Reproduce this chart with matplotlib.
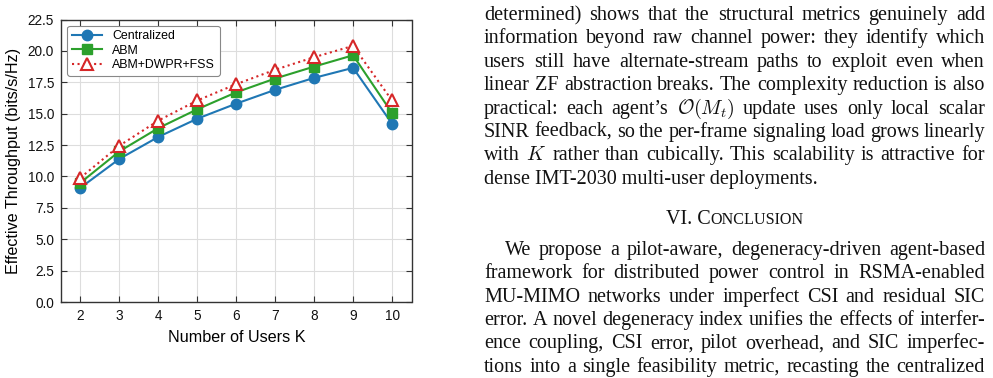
import matplotlib
matplotlib.use("Agg")
import matplotlib.pyplot as plt

# chart data
users = [2, 3, 4, 5, 6, 7, 8, 9, 10]
centralized = [9.1, 11.4, 13.15, 14.6, 15.8, 16.9, 17.85, 18.65, 14.2]
abm = [9.5, 12.0, 13.85, 15.35, 16.7, 17.8, 18.75, 19.65, 15.05]
abm_dwpr_fss = [9.9, 12.45, 14.45, 16.05, 17.35, 18.5, 19.5, 20.4, 16.05]
yticks = [0.0, 2.5, 5.0, 7.5, 10.0, 12.5, 15.0, 17.5, 20.0, 22.5]

# page text next to the figure
para1 = [
    "determined) shows that the structural metrics genuinely add",
    "information beyond raw channel power: they identify which",
    "users still have alternate-stream paths to exploit even when",
    "linear ZF abstraction breaks. The complexity reduction is also",
    "practical: each agent\u2019s $\\mathcal{O}(M_t)$ update uses only local scalar",
    "SINR feedback, so the per-frame signaling load grows linearly",
    r"with $K$ rather than cubically. This scalability is attractive for",
    "dense IMT-2030 multi-user deployments.",
]
para2 = [
    "We propose a pilot-aware, degeneracy-driven agent-based",
    "framework for distributed power control in RSMA-enabled",
    "MU-MIMO networks under imperfect CSI and residual SIC",
    "error. A novel degeneracy index unifies the effects of interfer-",
    "ence coupling, CSI error, pilot overhead, and SIC imperfec-",
    "tions into a single feasibility metric, recasting the centralized",
]

W, H = 993, 378
plt.rcParams['mathtext.fontset'] = 'cm'
fig = plt.figure(figsize=(W / 100, H / 100), dpi=100)
ax = fig.add_axes([61 / W, 1 - 302 / H, (411.5 - 61) / W, (302 - 19.5) / H])

sans = 'Liberation Sans'
ax.plot(users, centralized, '-o', color='#1f77b4', lw=1.5, ms=7.5, label='Centralized')
ax.plot(users, abm, '-s', color='#2ca02c', lw=1.5, ms=7, label='ABM')
ax.plot(users, abm_dwpr_fss, ':^', color='#d62728', lw=1.5, ms=8,
        markerfacecolor='white', markeredgewidth=1.5, label='ABM+DWPR+FSS')

ax.set_xlim(1.5, 10.5)
ax.set_ylim(0, 22.5)
ax.set_xticks(users)
ax.set_yticks(yticks)
ax.set_yticklabels([f"{v:.1f}" for v in yticks], family=sans, fontsize=9.8)
ax.set_xticklabels([str(u) for u in users], family=sans, fontsize=9.8)
ax.tick_params(direction='in', top=True, right=True, length=4, width=0.8,
               colors='#333333', pad=5)
ax.tick_params(labelcolor='#111111')
for s in ax.spines.values():
    s.set_color('#333333')
    s.set_linewidth(1.0)
ax.grid(True, color='#dddddd', lw=0.8)
ax.set_axisbelow(True)
ax.set_xlabel('Number of Users K', family=sans, fontsize=11.6, labelpad=5)
ax.set_ylabel('Effective Throughput (bits/s/Hz)', family=sans, fontsize=11.6, labelpad=5)
leg = ax.legend(loc='upper left', prop={'family': sans, 'size': 8.9}, handlelength=2.5,
                framealpha=1, edgecolor='#888888', borderpad=0.35, labelspacing=0.22)
leg.get_frame().set_linewidth(0.8)

# ---- text column ----
serif = 'Liberation Serif'
fs = 14.5
r = fig.canvas.get_renderer()
x0, x1 = 484, 985


def put(x, y, s, size=fs):
    return fig.text(x / W, 1 - y / H, s, family=serif, fontsize=size, color='#111111',
                    ha='left', va='baseline')


def line(s, y, justify=True, indent=0):
    words = s.split(' ')
    if not justify:
        put(x0 + indent, y, s)
        return
    arts = [put(0, y, w) for w in words]
    widths = [a.get_window_extent(r).width for a in arts]
    gap = (x1 - x0 - indent - sum(widths)) / (len(words) - 1)
    x = x0 + indent
    for a, w in zip(arts, widths):
        a.set_x(x / W)
        x += w + gap


y = 20
for i, s in enumerate(para1):
    line(s, y + i * 23.4, justify=(i < len(para1) - 1))

# section heading in small caps, centred on the column
h1 = put(0, 224, "VI. C")
h2 = put(0, 224, "ONCLUSION", size=fs * 0.8)
w1 = h1.get_window_extent(r).width
w2 = h2.get_window_extent(r).width
hx = (x0 + x1) / 2 - (w1 + w2) / 2
h1.set_x(hx / W)
h2.set_x((hx + w1) / W)

y = 255
for i, s in enumerate(para2):
    line(s, y + i * 23.35, indent=21 if i == 0 else 0)

fig.savefig('out.png', dpi=100)
